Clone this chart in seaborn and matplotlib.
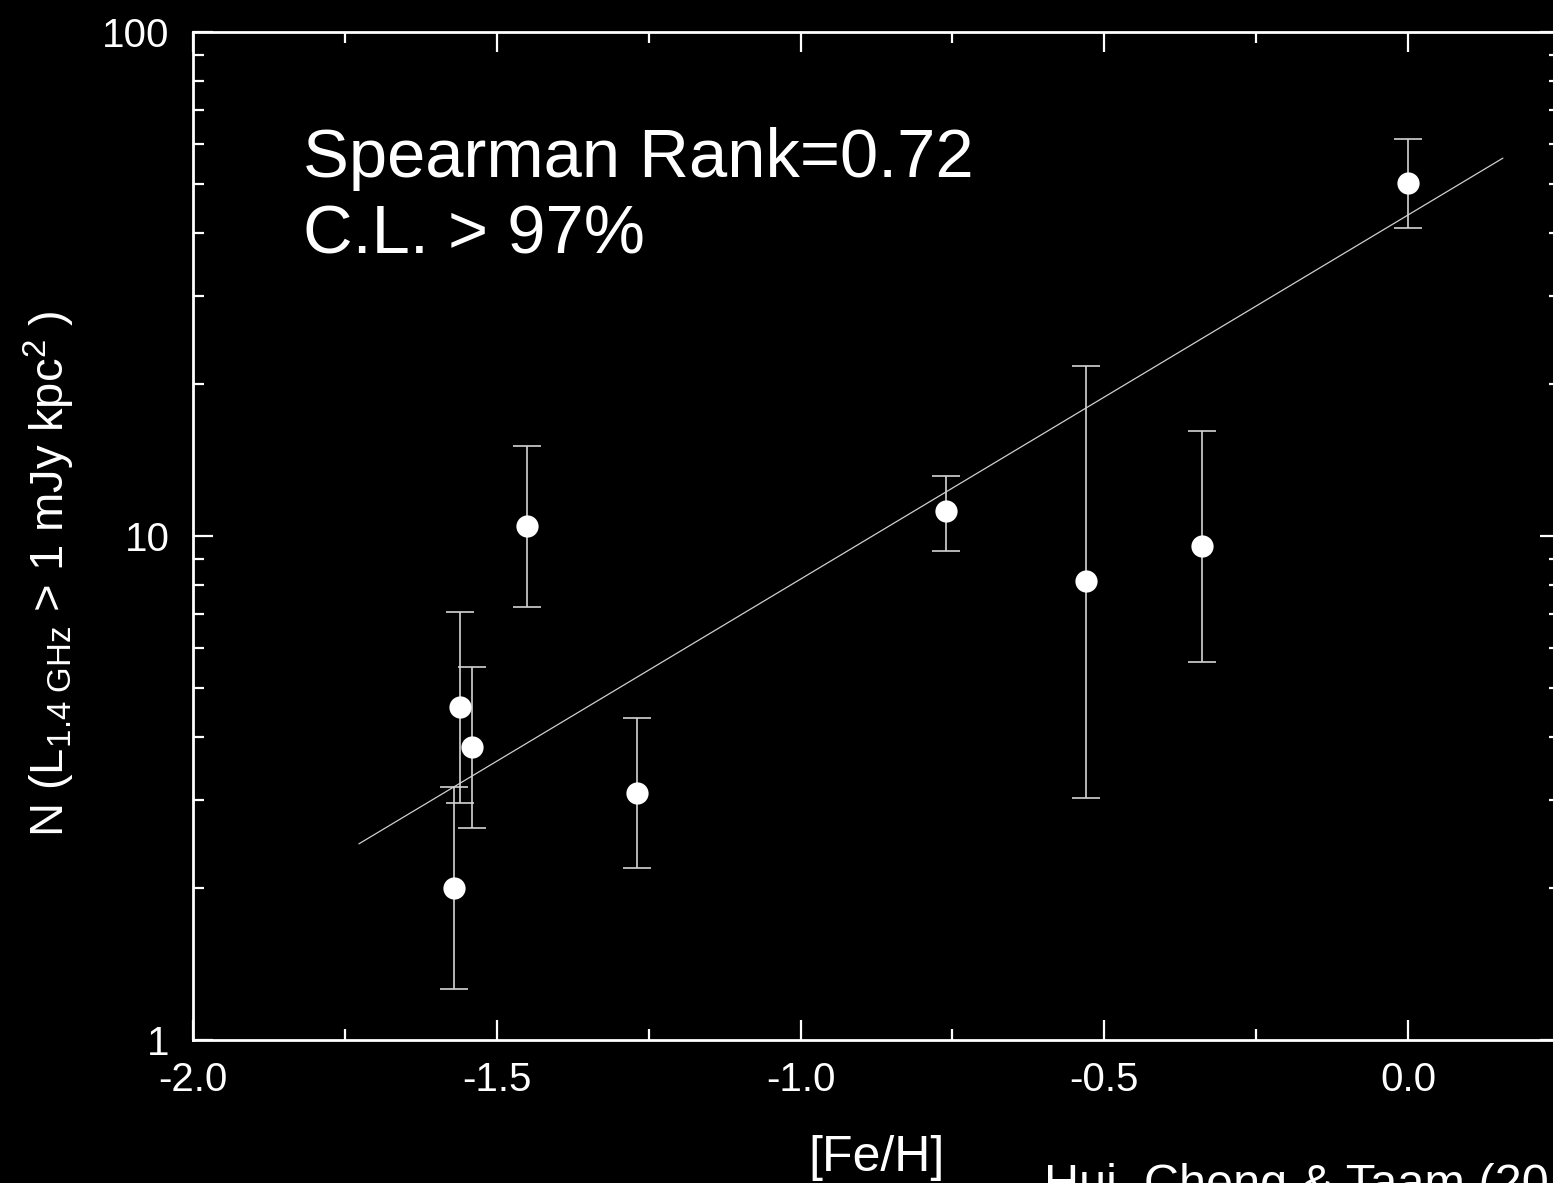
import numpy as np
import pandas as pd
import matplotlib
matplotlib.use("Agg")
import matplotlib.pyplot as plt
import seaborn as sns
from matplotlib.ticker import FixedLocator, LogLocator, NullFormatter, FixedFormatter

# ---------------- data ----------------
feh = [-1.570, -1.560, -1.541, -1.450, -1.269, -0.760, -0.530, -0.339, 0.000]
n_val = [2.00, 4.58, 3.81, 10.47, 3.09, 11.21, 8.14, 9.55, 50.2]
n_upper = [3.18, 7.07, 5.50, 15.09, 4.35, 13.15, 21.7, 16.16, 61.3]
n_lower = [1.26, 2.95, 2.63, 7.23, 2.19, 9.34, 3.02, 5.62, 40.8]
fit_feh = [-1.727, 0.156]
fit_n = [2.45, 56.2]
x_major = [-2.0, -1.5, -1.0, -0.5, 0.0]
x_major_labels = ["-2.0", "-1.5", "-1.0", "-0.5", "0.0"]
x_minor = [-1.75, -1.25, -0.75, -0.25]
y_major = [1, 10, 100]
y_major_labels = ["1", "10", "100"]

# ---------------- style ----------------
sns.set_style("dark", {"axes.facecolor": "black", "figure.facecolor": "black"})
plt.rcParams["font.family"] = ["Liberation Sans", "DejaVu Sans"]
plt.rcParams["mathtext.fontset"] = "custom"
plt.rcParams["mathtext.rm"] = "Liberation Sans"
plt.rcParams["mathtext.it"] = "Liberation Sans"
plt.rcParams["mathtext.bf"] = "Liberation Sans"

W, H = 1553, 1183
fig = plt.figure(figsize=(W / 100, H / 100), dpi=100, facecolor="black")
ax_l, ax_r, ax_t, ax_b = 193, 1560, 32, 1040
ax = fig.add_axes([ax_l / W, 1 - ax_b / H, (ax_r - ax_l) / W, (ax_b - ax_t) / H])
ax.set_facecolor("black")

df = pd.DataFrame({"feh": feh, "n": n_val, "up": n_upper, "lo": n_lower})
fit_df = pd.DataFrame({"feh": fit_feh, "n": fit_n})

# fit line
sns.lineplot(data=fit_df, x="feh", y="n", ax=ax, color="#cfcfcf", linewidth=0.9, zorder=2)

# error bars
yerr = np.vstack([df["n"] - df["lo"], df["up"] - df["n"]])
ax.errorbar(df["feh"], df["n"], yerr=yerr, fmt="none", ecolor="#d4d4d4",
            elinewidth=1.2, capsize=10, capthick=1.2, zorder=3)

# points
sns.scatterplot(data=df, x="feh", y="n", ax=ax, color="white", s=16 ** 2,
                edgecolor="white", linewidth=0, zorder=4)

ax.set_yscale("log")
ax.set_xlim(-2.0, 0.25)
ax.set_ylim(1, 100)

ax.xaxis.set_major_locator(FixedLocator(x_major))
ax.xaxis.set_major_formatter(FixedFormatter(x_major_labels))
ax.xaxis.set_minor_locator(FixedLocator(x_minor))
ax.yaxis.set_major_locator(FixedLocator(y_major))
ax.yaxis.set_major_formatter(FixedFormatter(y_major_labels))
ax.yaxis.set_minor_locator(LogLocator(base=10, subs=np.arange(2, 10)))
ax.yaxis.set_minor_formatter(NullFormatter())

for s in ax.spines.values():
    s.set_color("white")
    s.set_linewidth(2.0)
    s.set_visible(True)

ax.tick_params(which="both", direction="in", colors="white", top=True, right=True,
               bottom=True, left=True)
ax.tick_params(which="major", length=14.5, width=1.6, labelsize=29)
ax.tick_params(which="minor", length=8, width=1.6)
ax.tick_params(axis="x", which="major", pad=15)
ax.tick_params(axis="y", which="major", pad=17)
ax.grid(False)

ax.set_xlabel("[Fe/H]", fontsize=36, color="white", labelpad=26)
ax.set_ylabel(r"N (L$_{\mathrm{1.4\ GHz}}$ > 1 mJy kpc$^{\mathrm{2}}$ )",
              fontsize=34, color="white")
ax.yaxis.set_label_coords(-0.085, 0.463)

fig.text(303 / W, 1 - 177 / H, "Spearman Rank=0.72", fontsize=49.5, color="white",
         ha="left", va="baseline")
fig.text(303 / W, 1 - 253 / H, "C.L. > 97%", fontsize=49.5, color="white",
         ha="left", va="baseline")
fig.text(1044 / W, 1 - 1198 / H, "Hui, Cheng & Taam (2010)", fontsize=35,
         color="white", ha="left", va="baseline")

fig.savefig("out.png", dpi=100, facecolor="black")
